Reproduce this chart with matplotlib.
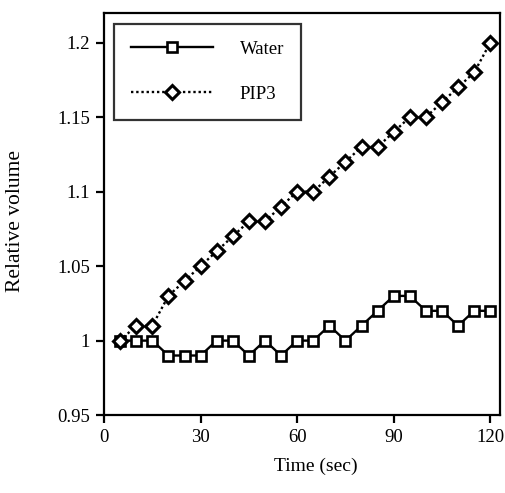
import numpy as np
import matplotlib
matplotlib.use('Agg')
import matplotlib.pyplot as plt

plt.rcParams['font.family'] = ['Liberation Serif', 'DejaVu Serif']

time = [5, 10, 15, 20, 25, 30, 35, 40, 45, 50, 55, 60,
        65, 70, 75, 80, 85, 90, 95, 100, 105, 110, 115, 120]
water = [1.00, 1.00, 1.00, 0.99, 0.99, 0.99, 1.00, 1.00, 0.99, 1.00, 0.99, 1.00,
         1.00, 1.01, 1.00, 1.01, 1.02, 1.03, 1.03, 1.02, 1.02, 1.01, 1.02, 1.02]
pip3 = [1.00, 1.01, 1.01, 1.03, 1.04, 1.05, 1.06, 1.07, 1.08, 1.08, 1.09, 1.10,
        1.10, 1.11, 1.12, 1.13, 1.13, 1.14, 1.15, 1.15, 1.16, 1.17, 1.18, 1.20]
xticks = [0, 30, 60, 90, 120]
yticks = [0.95, 1, 1.05, 1.1, 1.15, 1.2]
ytick_labels = ['0.95', '1', '1.05', '1.1', '1.15', '1.2']

fig = plt.figure(figsize=(5.05, 4.93), dpi=100)
ax = fig.add_axes([0.206, 0.158, 0.784, 0.816])

ax.plot(time, water, color='black', linestyle='-', linewidth=1.7,
        marker='s', markersize=7.5, markerfacecolor='white',
        markeredgecolor='black', markeredgewidth=1.9, label='Water')
ax.plot(time, pip3, color='black', linestyle=(0, (1, 1.2)), linewidth=1.7,
        marker='D', markersize=7.5, markerfacecolor='white',
        markeredgecolor='black', markeredgewidth=2.2, label='PIP3')

ax.set_xlim(0, 123)
ax.set_ylim(0.95, 1.22)
ax.set_xticks(xticks)
ax.set_yticks(yticks)
ax.set_yticklabels(ytick_labels)
ax.tick_params(direction='out', length=6, width=1.6, labelsize=13.5, pad=4)
for s in ax.spines.values():
    s.set_linewidth(1.6)

ax.set_xlabel('Time (sec)', fontsize=14)
ax.set_ylabel('Relative volume', fontsize=15.5)
ax.xaxis.set_label_coords(0.535, -0.105)
ax.yaxis.set_label_coords(-0.2, 0.483)

leg = ax.legend(loc='upper left', bbox_to_anchor=(0.025, 0.973), borderaxespad=0,
                fontsize=13.5, handlelength=4.37, handletextpad=1.44,
                labelspacing=1.5, borderpad=0.9, fancybox=False)
leg.get_frame().set_edgecolor('black')
leg.get_frame().set_linewidth(1.6)

fig.savefig('out.png', dpi=100)
